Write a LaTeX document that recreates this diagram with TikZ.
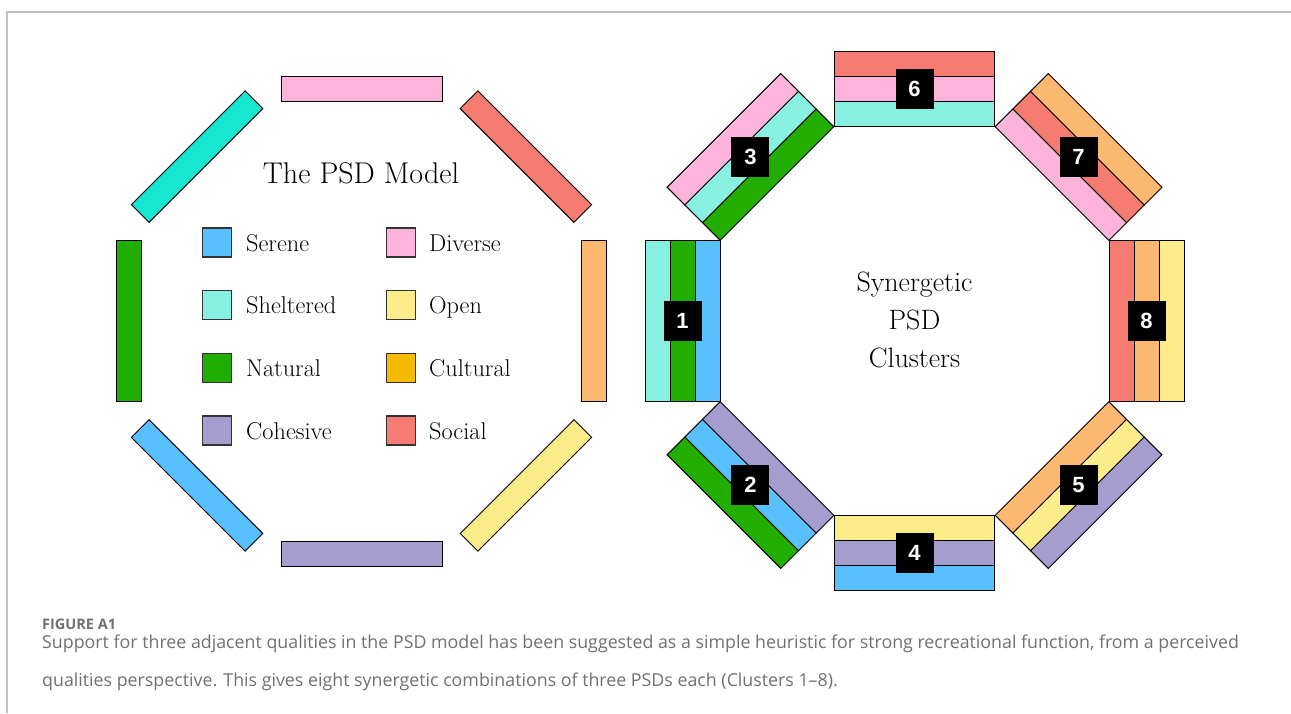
\documentclass[tikz,border=0pt]{standalone}
\usepackage{fontspec}
\usepackage{xcolor}
\usepackage{tikz}
\newfontfamily\capfont{Open Sans}
\newfontfamily\tagfont{Liberation Sans}
\definecolor{serene}{HTML}{57C0FD}
\definecolor{sheltered}{HTML}{88F0E0}
\definecolor{tealbright}{HTML}{16E7D3}
\definecolor{natural}{HTML}{22AE00}
\definecolor{cohesive}{HTML}{A69DCF}
\definecolor{diverse}{HTML}{FEB4DA}
\definecolor{open}{HTML}{FDEC8A}
\definecolor{cultural}{HTML}{F6BA00}
\definecolor{cultlight}{HTML}{FDB972}
\definecolor{social}{HTML}{F67B70}
\definecolor{capgray}{HTML}{707070}

\begin{document}
\begin{tikzpicture}[x=1pt,y=-1pt,
	bar/.style={draw=black,line width=0.9pt},
	swatch/.style={draw=black!80,line width=1.3pt,minimum size=29pt,inner sep=0pt},
	lbl/.style={anchor=base west,inner sep=0pt,font=\fontsize{24.3}{28}\selectfont},
	tag/.style={fill=black,text=white,minimum width=38pt,minimum height=40pt,inner sep=0pt,
		font=\tagfont\bfseries\fontsize{22}{22}\selectfont},
	captext/.style={anchor=base west,inner sep=0pt,text=capgray}]
	\useasboundingbox (0,0) rectangle (1291,713);
	\draw[black!25,line width=1.5pt] (7,713) -- (7,12) -- (1291,12);
	%
	%  THE PSD MODEL
	%
	\begin{scope}[shift={(361.5,321)}]
	\foreach \ang/\col in {90/diverse,45/social,0/cultlight,-45/open,
		-90/cohesive,-135/serene,180/natural,135/tealbright}
		\draw[bar,fill=\col,rotate=\ang] (220,-80.5) rectangle (245,80.5);
	\end{scope}
	\node[anchor=base,inner sep=0pt,font=\fontsize{30}{36}\selectfont] (M) at (361,183) {The PSD Model};
	\foreach \i/\ca/\ta/\cb/\tb in {0/serene/Serene/diverse/Diverse,1/sheltered/Sheltered/open/Open,
		2/natural/Natural/cultural/Cultural,3/cohesive/Cohesive/social/Social}
	{
		\node[swatch,fill=\ca] (Sa\i) at (217,242.5+62.7*\i) {};
		\node[lbl] (La\i) at (246,251+62.7*\i) {\ta};
		\node[swatch,fill=\cb] (Sb\i) at (401,242.5+62.7*\i) {};
		\node[lbl] (Lb\i) at (429,251+62.7*\i) {\tb};
	}
	%
	%  CLUSTERS
	%
	\begin{scope}[shift={(914.5,321)}]
	\foreach \ang/\num/\ca/\cb/\cc in {90/6/sheltered/diverse/social,45/7/diverse/social/cultlight,
		0/8/social/cultlight/open,-45/5/cultlight/open/cohesive,-90/4/open/cohesive/serene,
		-135/2/cohesive/serene/natural,180/1/serene/natural/sheltered,135/3/natural/sheltered/diverse}
	{
		\draw[bar,fill=\ca,rotate=\ang] (194.5,-80.35) rectangle (219.5,80.35);
		\draw[bar,fill=\cb,rotate=\ang] (219.5,-80.35) rectangle (244.5,80.35);
		\draw[bar,fill=\cc,rotate=\ang] (244.5,-80.35) rectangle (269.5,80.35);
		\node[tag] (C\num) at (-\ang:232) {\num};
	}
	\end{scope}
	\node[align=center,inner sep=0pt,font=\fontsize{28}{38}\selectfont] (SC) at (914.5,320)
		{Synergetic\\PSD\\Clusters};
	%
	%  CAPTION
	%
	\node[captext,font=\capfont\bfseries\fontsize{14.5}{14.5}\selectfont] (FA) at (42,629) {FIGURE A1};
	\node[captext,font=\capfont\fontsize{17.8}{17.8}\selectfont] (CA) at (42,648)
		{Support for three adjacent qualities in the PSD model has been suggested as a simple heuristic for strong recreational function, from a perceived};
	\node[captext,font=\capfont\fontsize{17.8}{17.8}\selectfont] (CB) at (42,686)
		{qualities perspective. This gives eight synergetic combinations of three PSDs each (Clusters 1–8).};
\end{tikzpicture}
\end{document}
